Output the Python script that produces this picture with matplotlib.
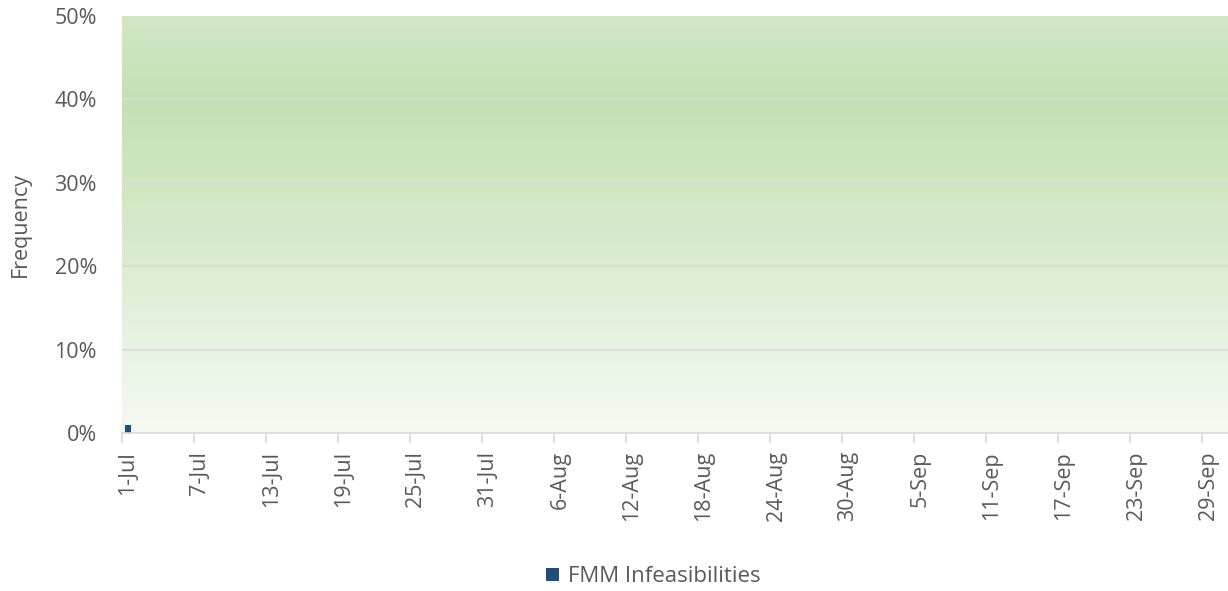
import matplotlib
matplotlib.use("Agg")
import matplotlib.pyplot as plt
from matplotlib.colors import LinearSegmentedColormap
from matplotlib.ticker import PercentFormatter
import numpy as np
import pandas as pd

# ---- data ----
categories = [d.strftime("%-d-%b") for d in pd.date_range("2023-07-01", "2023-09-30", freq="D")]
values = [0.009, 0.0, 0.0, 0.0, 0.0, 0.0, 0.0, 0.0, 0.0, 0.0,
          0.0, 0.0, 0.0, 0.0, 0.0, 0.0, 0.0, 0.0, 0.0, 0.0,
          0.0, 0.0, 0.0, 0.0, 0.0, 0.0, 0.0, 0.0, 0.0, 0.0,
          0.0, 0.0, 0.0, 0.0, 0.0, 0.0, 0.0, 0.0, 0.0, 0.0,
          0.0, 0.0, 0.0, 0.0, 0.0, 0.0, 0.0, 0.0, 0.0, 0.0,
          0.0, 0.0, 0.0, 0.0, 0.0, 0.0, 0.0, 0.0, 0.0, 0.0,
          0.0, 0.0, 0.0, 0.0, 0.0, 0.0, 0.0, 0.0, 0.0, 0.0,
          0.0, 0.0, 0.0, 0.0, 0.0, 0.0, 0.0, 0.0, 0.0, 0.0,
          0.0, 0.0, 0.0, 0.0, 0.0, 0.0, 0.0, 0.0, 0.0, 0.0,
          0.0, 0.0]
tick_labels = ["1-Jul", "7-Jul", "13-Jul", "19-Jul", "25-Jul", "31-Jul", "6-Aug",
               "12-Aug", "18-Aug", "24-Aug", "30-Aug", "5-Sep", "11-Sep", "17-Sep",
               "23-Sep", "29-Sep"]
yticks = [0, 0.1, 0.2, 0.3, 0.4, 0.5]
series_name = "FMM Infeasibilities"

plt.rcParams['font.family'] = ['Open Sans', 'DejaVu Sans']
txt = "#595959"

fig = plt.figure(figsize=(12.28, 5.91), dpi=100)
ax = fig.add_axes([122/1228, (591-433)/591, 1106/1228, 417/591])

n = len(categories)
x = np.arange(n)
xmax = -0.5 + 1106/12.0
ax.set_xlim(-0.5, xmax)
ax.set_ylim(0, 0.5)

# gradient background
cmap = LinearSegmentedColormap.from_list("bg", [
    (0.0, "#f5f9f3"), (0.2, "#e9f3e4"), (0.45, "#d8ebcd"),
    (0.8, "#c3e0b3"), (1.0, "#d2e7c6")])
grad = np.linspace(0, 1, 256).reshape(-1, 1)
ax.imshow(grad, cmap=cmap, aspect="auto", origin="lower",
          extent=[-0.5, xmax, 0, 0.5], zorder=0)

for yv in yticks[1:-1]:
    ax.axhline(yv, color="#d9d9d9", lw=1.2, zorder=1)

ax.bar(x, values, width=0.5, color="#1f4e79", zorder=3, label=series_name)

for s in ["top", "right", "left"]:
    ax.spines[s].set_visible(False)
ax.spines["bottom"].set_color("#d9d9d9")
ax.spines["bottom"].set_linewidth(1.2)
ax.spines["bottom"].set_zorder(4)

ax.set_yticks(yticks)
ax.yaxis.set_major_formatter(PercentFormatter(1.0, decimals=0))
ax.tick_params(axis="y", length=0, labelsize=15.5, labelcolor=txt, pad=18)

pos = [categories.index(t) for t in tick_labels]
ax.set_xticks([p - 0.5 for p in pos])
ax.set_xticklabels([])
ax.set_xticks(pos, minor=True)
ax.set_xticklabels(tick_labels, minor=True, rotation=90)
ax.tick_params(axis="x", which="major", length=7, color="#d9d9d9", width=1.2)
ax.tick_params(axis="x", which="minor", length=0, labelsize=15.5, labelcolor=txt, pad=13)

ax.set_ylabel("Frequency", fontsize=15.5, color=txt)
ax.yaxis.set_label_coords(-91/1106, 0.5)

fig.legend(loc="center", bbox_to_anchor=(0.532, 0.024), frameon=False,
           fontsize=16, labelcolor=txt, handlelength=0.55, handleheight=0.55,
           handletextpad=0.4)

fig.savefig("out.png", dpi=100)
